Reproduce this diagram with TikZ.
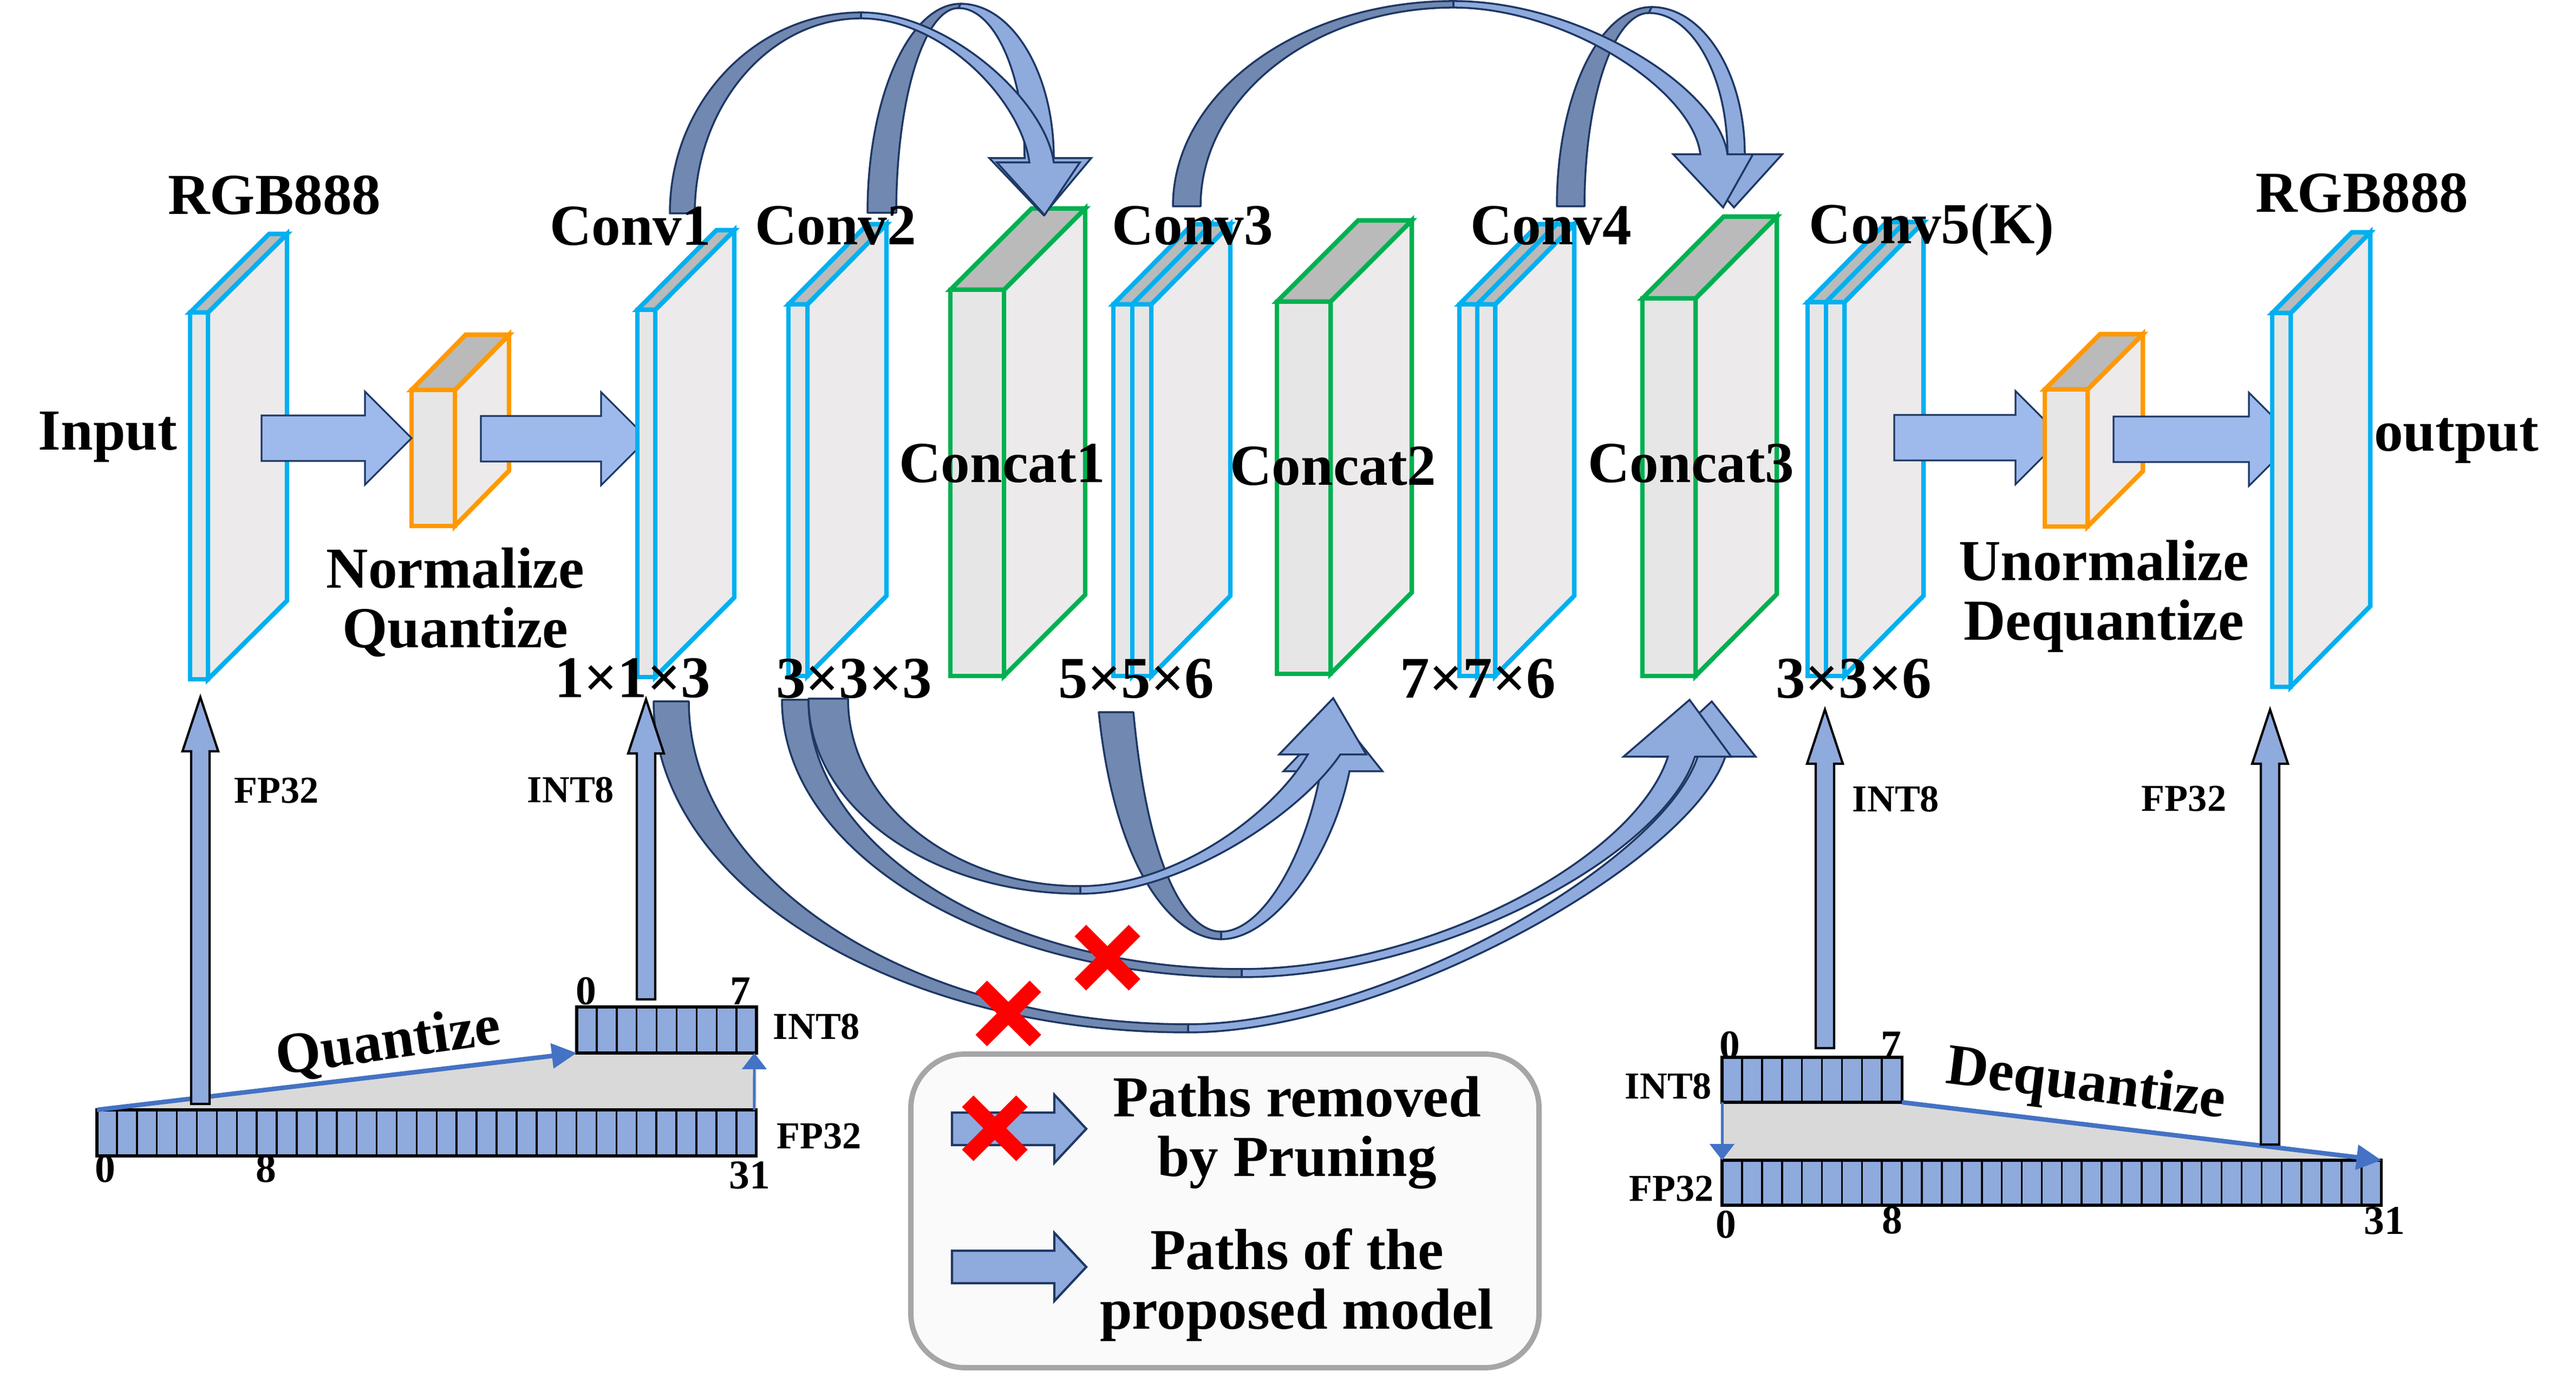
\documentclass[tikz,border=0pt]{standalone}
\usepackage{fontspec}
\setmainfont{Liberation Serif}
\usetikzlibrary{calc,arrows.meta}

\definecolor{cyanedge}{RGB}{0,176,240}
\definecolor{greenedge}{RGB}{0,176,80}
\definecolor{orangeedge}{RGB}{255,153,0}
\definecolor{frontgray}{RGB}{231,230,230}
\definecolor{sidegray}{RGB}{236,234,235}
\definecolor{topgray}{RGB}{186,186,186}
\definecolor{ribdark}{RGB}{113,136,177}
\definecolor{riblight}{RGB}{143,170,220}
\definecolor{navy}{RGB}{31,56,100}
\definecolor{flatblue}{RGB}{158,186,237}
\definecolor{bitblue}{RGB}{143,170,220}
\definecolor{trapgray}{RGB}{217,217,217}
\definecolor{lineblue}{RGB}{68,114,196}
\definecolor{boxgray}{RGB}{166,166,166}
\definecolor{boxfill}{RGB}{250,250,250}

\tikzset{
  lbl/.style={font=\bfseries\fontsize{30.5}{31.3}\selectfont, inner sep=0pt},
  dims/.style={font=\bfseries\fontsize{31}{31}\selectfont, inner sep=0pt},
  tag/.style={font=\bfseries\fontsize{20}{20}\selectfont, inner sep=0pt},
  bitno/.style={font=\bfseries\fontsize{21.5}{21.5}\selectfont, inner sep=0pt},
  ribbon dark/.style={fill=ribdark, draw=navy, line width=1pt, line join=round},
  ribbon light/.style={fill=riblight, draw=navy, line width=1pt},
  flat arrow/.style={fill=flatblue, draw=navy, line width=0.9pt},
  bar arrow/.style={fill=bitblue, draw=black, line width=1.2pt},
  legend arrow/.style={fill=bitblue, draw=navy, line width=1.2pt},
  register/.style={fill=bitblue, draw=black, line width=1.5pt},
  cut/.style={red, line width=0.3cm},
  convert/.style={lineblue, line width=2.4pt, -{Triangle[length=0.46cm,width=0.45cm]}},
  shift arrow/.style={lineblue, line width=1.4pt, -{Triangle[length=0.3cm,width=0.45cm]}},
}

\newcommand\bitw{0.369}
% name, edge colour, x, bottom, width, height, depth x, depth y
\newcommand\layerbox[8]{%
  \begin{scope}[shift={(#3,#4)}, color=#2, line width=2.4pt, line join=miter]
    \filldraw[fill=sidegray] (#5,0) -- (#5+#7,#8) -- (#5+#7,#6+#8) -- (#5,#6) -- cycle;
    \filldraw[fill=topgray] (0,#6) -- (#7,#6+#8) -- (#5+#7,#6+#8) -- (#5,#6) -- cycle;
    \filldraw[fill=frontgray] (0,0) rectangle (#5,#6) coordinate (#1);
  \end{scope}}
% name, x, y, last separator, height
\newcommand\bitreg[5]{%
  \draw[register] (#2,#3) coordinate (#1-sw) rectangle ++({(#4+1)*\bitw},#5) coordinate (#1-ne);
  \foreach \c in {1,...,#4} \draw[line width=1pt] ({#2+\c*\bitw},#3) -- ++(0,#5);
  \draw[register, fill=none] (#1-sw) rectangle (#1-ne);}
% style, tail, tip, body half, head half, head length
\newcommand\fatarrow[6]{%
  \filldraw[#1] ($(#2)+(0,#4)$) -- ($(#3)+(-#6,#4)$) -- ($(#3)+(-#6,#5)$) -- (#3)
    -- ($(#3)+(-#6,-#5)$) -- ($(#3)+(-#6,-#4)$) -- ($(#2)+(0,-#4)$) -- cycle;}
\newcommand\riser[2]{%
  \filldraw[bar arrow] ($(#1)+(-0.17,0)$) -- ($(#2)+(-0.17,-1.0)$) -- ($(#2)+(-0.33,-1.0)$) -- (#2)
    -- ($(#2)+(0.33,-1.0)$) -- ($(#2)+(0.17,-1.0)$) -- ($(#1)+(0.17,0)$) -- cycle;}
\newcommand\prune[1]{%
  \draw[cut] ($(#1)+(-0.5,0.5)$) -- ($(#1)+(0.5,-0.5)$);
  \draw[cut] ($(#1)+(0.5,0.5)$) -- ($(#1)+(-0.5,-0.5)$);}

\begin{document}
\begin{tikzpicture}
\useasboundingbox (0,0) rectangle (47.57,25.44);

% legend
\draw[line width=2.8pt, draw=boxgray, fill=boxfill, rounded corners=1cm] (16.82,0.19) rectangle (28.42,5.98);
\coordinate (key1) at (17.58,4.60);
\coordinate (key1-tip) at (20.06,4.60);
\coordinate (key2) at (17.58,2.05);
\coordinate (key2-tip) at (20.06,2.05);
\fatarrow{legend arrow}{key1}{key1-tip}{0.30}{0.63}{0.59}
\fatarrow{legend arrow}{key2}{key2-tip}{0.30}{0.63}{0.59}
\prune{18.37,4.61}
\node[lbl, align=center] (key1-text) at (23.95,4.53) {Paths removed\\by Pruning};
\node[lbl, align=center] (key2-text) at (23.95,1.72) {Paths of the\\proposed model};

% quantize side
\fill[trapgray] (1.79,4.95) -- (10.65,6.00) -- (13.97,6.00) -- (13.97,4.95) -- cycle;
\bitreg{fpL}{1.79}{4.10}{32}{0.85}
\bitreg{intL}{10.65}{6.00}{8}{0.85}
\draw[convert] (fpL-sw |- fpL-ne) -- (intL-sw);
\draw[shift arrow] ($(fpL-ne)+(-0.04,0)$) -- ($(intL-ne |- intL-sw)+(-0.04,0)$);

% dequantize side
\fill[trapgray] (31.80,5.09) -- (35.12,5.09) -- (43.98,4.02) -- (31.80,4.02) -- cycle;
\bitreg{intR}{31.80}{5.09}{8}{0.83}
\bitreg{fpR}{31.80}{3.19}{32}{0.83}
\draw[convert] (intR-ne |- intR-sw) -- (fpR-ne);
\draw[shift arrow] (intR-sw) -- (fpR-sw |- fpR-ne);

% layers
\coordinate (a1) at (4.83,17.35);
\coordinate (norm-in) at (7.60,17.35);
\coordinate (a2) at (8.88,17.34);
\coordinate (conv1-in) at (11.96,17.34);
\coordinate (a3) at (34.98,17.36);
\coordinate (unorm-in) at (38.08,17.36);
\coordinate (a4) at (39.03,17.33);
\coordinate (out-in) at (42.39,17.33);

\layerbox{inp}{cyanedge}{3.51}{12.90}{0.33}{6.77}{1.46}{1.45}
\layerbox{norm}{orangeedge}{7.60}{15.73}{0.80}{2.51}{1.00}{1.02}
\fatarrow{flat arrow}{a1}{norm-in}{0.42}{0.86}{0.86}
\fatarrow{flat arrow}{a2}{conv1-in}{0.42}{0.86}{0.86}
\layerbox{conv1}{cyanedge}{11.77}{12.94}{0.33}{6.78}{1.46}{1.47}
\layerbox{conv2}{cyanedge}{14.56}{12.96}{0.35}{6.86}{1.46}{1.48}
\layerbox{concat1}{greenedge}{17.55}{12.96}{0.99}{7.13}{1.50}{1.50}
\foreach \k in {0,1}
  \layerbox{conv3-\k}{cyanedge}{20.56+0.35*\k}{12.96}{0.35}{6.86}{1.46}{1.48};
\layerbox{concat2}{greenedge}{23.58}{13.00}{0.99}{6.87}{1.50}{1.50}
\foreach \k in {0,1}
  \layerbox{conv4-\k}{cyanedge}{26.95+0.33*\k}{12.96}{0.33}{6.86}{1.46}{1.48};
\layerbox{concat3}{greenedge}{30.33}{12.96}{0.98}{6.97}{1.50}{1.51}
\foreach \k in {0,1}
  \layerbox{conv5-\k}{cyanedge}{33.38+0.34*\k}{12.96}{0.34}{6.90}{1.46}{1.48};
\fatarrow{flat arrow}{a3}{unorm-in}{0.42}{0.86}{0.86}
\layerbox{unorm}{orangeedge}{37.76}{15.72}{0.79}{2.53}{1.02}{1.02}
\fatarrow{flat arrow}{a4}{out-in}{0.42}{0.86}{0.86}
\layerbox{out}{cyanedge}{41.96}{12.76}{0.34}{6.90}{1.47}{1.49}

% skip paths over the top
\coordinate (conv1-up) at (12.37,21.50);
\coordinate (conv2-up) at (16.02,21.51);
\coordinate (conv3-up) at (21.66,21.63);
\coordinate (conv4-up) at (28.75,21.63);
\coordinate (concat1-a) at (19.29,21.47);
\coordinate (concat1-b) at (19.27,21.47);
\coordinate (concat3-c) at (31.82,21.61);
\coordinate (concat3-d) at (32.02,21.61);
% Conv2 -> Concat1
\filldraw[ribbon dark] (conv2-up) arc[start angle=180, end angle=90, x radius=1.72, y radius=3.86]
  -- (17.70,25.29) arc[start angle=90, end angle=180, x radius=1.15, y radius=3.78] -- cycle;
\filldraw[ribbon light] (17.74,25.37) arc[start angle=90, end angle=0, x radius=1.72, y radius=2.85]
  -- (20.15,22.52) -- (concat1-b) -- (18.27,22.52) -- (18.92,22.52)
  arc[start angle=0, end angle=90, x radius=1.22, y radius=2.77] -- cycle;
% Conv1 -> Concat1
\filldraw[ribbon dark] (conv1-up) arc[start angle=180, end angle=90, x radius=3.53, y radius=3.71]
  -- (15.90,25.10) arc[start angle=90, end angle=180, x radius=3.07, y radius=3.60] -- cycle;
\filldraw[ribbon light] (15.90,25.21) .. controls (17.5,25.21) and (19.3,23.6) .. (19.46,22.44)
  -- (19.94,22.44) -- (concat1-a) -- (18.41,22.44) -- (19.01,22.44)
  .. controls (18.85,23.6) and (17.4,25.10) .. (15.90,25.10) -- cycle;
% Conv4 -> Concat3
\filldraw[ribbon dark] (conv4-up) arc[start angle=180, end angle=90, x radius=1.75, y radius=3.68]
  -- (30.45,25.20) arc[start angle=90, end angle=180, x radius=1.19, y radius=3.57] -- cycle;
\filldraw[ribbon light] (30.50,25.31) arc[start angle=90, end angle=0, x radius=1.72, y radius=2.72]
  -- (32.91,22.59) -- (concat3-d) -- (31.13,22.59) -- (31.90,22.59)
  arc[start angle=0, end angle=90, x radius=1.45, y radius=2.61] -- cycle;
% Conv3 -> Concat3
\filldraw[ribbon dark] (conv3-up) arc[start angle=180, end angle=90, x radius=5.18, y radius=3.79]
  -- (26.84,25.30) arc[start angle=90, end angle=180, x radius=4.67, y radius=3.67] -- cycle;
\filldraw[ribbon light] (26.84,25.42) .. controls (29.2,25.42) and (31.75,23.8) .. (31.90,22.59)
  -- (32.37,22.59) -- (concat3-c) -- (30.90,22.59) -- (31.40,22.59)
  .. controls (31.25,23.8) and (28.9,25.30) .. (26.84,25.30) -- cycle;

% skip paths underneath
\coordinate (conv1-down) at (12.07,12.49);
\coordinate (conv2-down) at (14.44,12.52);
\coordinate (conv2-down2) at (14.93,12.54);
\coordinate (conv3-down) at (20.29,12.29);
\coordinate (concat3-e) at (31.61,12.49);
\coordinate (concat3-f) at (31.20,12.52);
\coordinate (concat2-h) at (24.70,12.24);
\coordinate (concat2-g) at (24.62,12.55);
% Conv1 -> Concat3 (pruned)
\filldraw[ribbon dark] (conv1-down) arc[start angle=180, end angle=270, x radius=9.87, y radius=6.11]
  -- (21.94,6.53) arc[start angle=270, end angle=180, x radius=9.22, y radius=5.96] -- cycle;
\filldraw[ribbon light] (21.94,6.38) .. controls (25.6,6.38) and (31.2,9.5) .. (31.86,11.47)
  -- (32.42,11.47) -- (concat3-e) -- (30.51,11.47) -- (31.35,11.47)
  .. controls (30.7,9.5) and (25.5,6.53) .. (21.94,6.53) -- cycle;
% Conv2 -> Concat3 (pruned)
\filldraw[ribbon dark] (conv2-down) arc[start angle=180, end angle=270, x radius=8.49, y radius=5.12]
  -- (22.93,7.55) arc[start angle=270, end angle=180, x radius=8.0, y radius=4.97] -- cycle;
\filldraw[ribbon light] (22.93,7.40) .. controls (26.5,7.40) and (30.7,9.6) .. (31.30,11.47)
  -- (31.97,11.47) -- (concat3-f) -- (29.98,11.47) -- (30.80,11.47)
  .. controls (30.2,9.6) and (26.4,7.55) .. (22.93,7.55) -- cycle;
% Conv3 -> Concat2
\filldraw[ribbon dark] (conv3-down) .. controls (20.6,9.3) and (21.7,8.10) .. (22.55,8.10)
  -- (22.55,8.24) .. controls (21.9,8.24) and (21.2,9.4) .. (20.93,12.29) -- cycle;
\filldraw[ribbon light] (22.55,8.10) .. controls (23.5,8.10) and (24.6,9.6) .. (24.92,11.20)
  -- (25.53,11.20) -- (concat2-h) -- (23.70,11.20) -- (24.39,11.20)
  .. controls (24.1,9.6) and (23.3,8.24) .. (22.55,8.24) -- cycle;
% Conv2 -> Concat2
\filldraw[ribbon dark] (conv2-down2) arc[start angle=180, end angle=270, x radius=5.02, y radius=3.60]
  -- (19.95,9.08) arc[start angle=270, end angle=180, x radius=4.29, y radius=3.46] -- cycle;
\filldraw[ribbon light] (19.95,8.94) .. controls (21.8,8.94) and (24.0,10.4) .. (24.75,11.51)
  -- (25.23,11.51) -- (concat2-g) -- (23.62,11.51) -- (24.15,11.51)
  .. controls (23.5,10.4) and (21.7,9.08) .. (19.95,9.08) -- cycle;

% data into and out of the network
\coordinate (fp-in) at (3.70,5.06);
\coordinate (inp-in) at (3.70,12.57);
\coordinate (int-in) at (11.93,6.99);
\coordinate (conv1-bot) at (11.93,12.53);
\coordinate (int-out) at (33.70,6.09);
\coordinate (conv5-bot) at (33.70,12.34);
\coordinate (fp-out) at (41.92,4.31);
\coordinate (out-bot) at (41.92,12.34);
\riser{fp-in}{inp-in}
\riser{int-in}{conv1-bot}
\riser{int-out}{conv5-bot}
\riser{fp-out}{out-bot}

\prune{20.45,7.76}
\prune{18.62,6.73}

% labels
\node[lbl, anchor=base] (rgb-in) at (5.07,21.48) {RGB888};
\node[lbl, anchor=base] (input) at (1.99,17.13) {Input};
\node[lbl, align=center] (normalize) at (8.41,14.32) {Normalize\\Quantize};
\node[lbl, anchor=base] (conv1-l) at (11.64,20.91) {Conv1};
\node[lbl, anchor=base] (conv2-l) at (15.43,20.92) {Conv2};
\node[lbl, anchor=base] (conv3-l) at (22.02,20.92) {Conv3};
\node[lbl, anchor=base] (conv4-l) at (28.64,20.92) {Conv4};
\node[lbl, anchor=base] (conv5-l) at (35.67,20.94) {Conv5(K)};
\node[lbl, anchor=base] (concat1-l) at (18.51,16.53) {Concat1};
\node[lbl, anchor=base] (concat2-l) at (24.62,16.48) {Concat2};
\node[lbl, anchor=base] (concat3-l) at (31.23,16.53) {Concat3};
\node[dims, anchor=base] (k1) at (11.68,12.56) {1×1×3};
\node[dims, anchor=base] (k2) at (15.77,12.55) {3×3×3};
\node[dims, anchor=base] (k3) at (20.98,12.55) {5×5×6};
\node[dims, anchor=base] (k4) at (27.29,12.55) {7×7×6};
\node[dims, anchor=base] (k5) at (34.23,12.55) {3×3×6};
\node[lbl, anchor=base] (rgb-out) at (43.62,21.52) {RGB888};
\node[lbl, anchor=base] (output) at (45.36,17.11) {output};
\node[lbl, align=center] (unormalize) at (38.85,14.43) {Unormalize\\Dequantize};
\node[lbl, rotate=8] (quantize) at (7.17,6.17) {Quantize};
\node[lbl, rotate=-7] (dequantize) at (38.52,5.38) {Dequantize};

\node[tag] (fp-in-l) at (5.11,10.84) {FP32};
\node[tag] (int-in-l) at (10.54,10.86) {INT8};
\node[tag] (int-out-l) at (35.01,10.69) {INT8};
\node[tag] (fp-out-l) at (40.33,10.69) {FP32};
\node[tag] (intL-l) at (15.08,6.49) {INT8};
\node[tag] (fpL-l) at (15.13,4.46) {FP32};
\node[tag] (intR-l) at (30.81,5.39) {INT8};
\node[tag] (fpR-l) at (30.87,3.49) {FP32};

\node[bitno] at (10.82,7.14) {0};
\node[bitno] at (13.67,7.14) {7};
\node[bitno] at (1.94,3.86) {0};
\node[bitno] at (4.91,3.86) {8};
\node[bitno] at (13.84,3.74) {31};
\node[bitno] at (31.94,6.14) {0};
\node[bitno] at (34.92,6.14) {7};
\node[bitno] at (31.87,2.83) {0};
\node[bitno] at (34.94,2.91) {8};
\node[bitno] at (44.03,2.90) {31};
\end{tikzpicture}
\end{document}
